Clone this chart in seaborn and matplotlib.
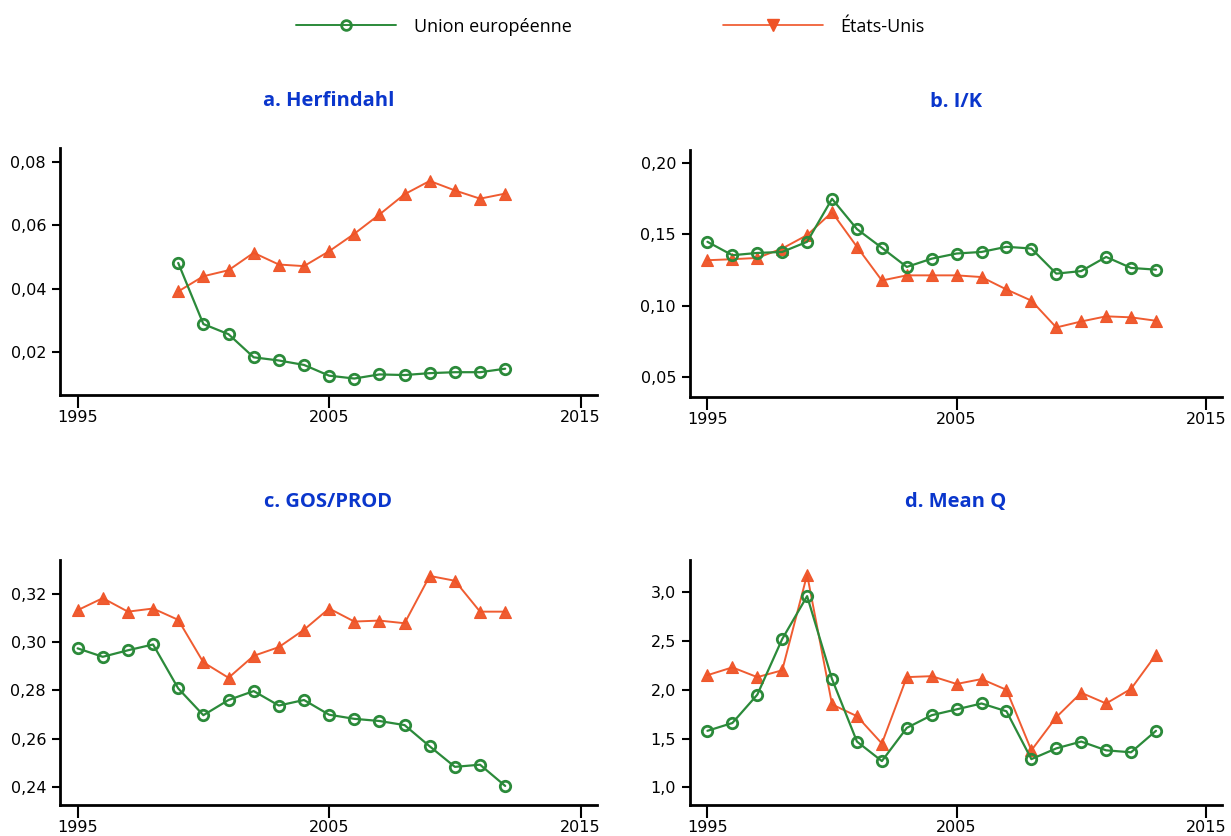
import numpy as np
import pandas as pd
import matplotlib
matplotlib.use("Agg")
import matplotlib.pyplot as plt
from matplotlib.lines import Line2D
from matplotlib.ticker import FuncFormatter
import seaborn as sns

# ---- data ----
years_a = list(range(1999, 2013))
eu_herf = [0.0481, 0.0288, 0.0256, 0.0183, 0.0173, 0.0159, 0.0125, 0.0116,
           0.0129, 0.0127, 0.0133, 0.0136, 0.0136, 0.0147]
us_herf = [0.0391, 0.0439, 0.0458, 0.0513, 0.0476, 0.0471, 0.0518, 0.0573,
           0.0634, 0.0698, 0.0740, 0.0710, 0.0684, 0.0700]

years_b = list(range(1995, 2014))
eu_ik = [0.1447, 0.1353, 0.1369, 0.1376, 0.1447, 0.1748, 0.1536, 0.1405, 0.1271,
         0.1329, 0.1365, 0.1376, 0.1412, 0.1400, 0.1224, 0.1242, 0.1341, 0.1264, 0.1252]
us_ik = [0.1318, 0.1325, 0.1334, 0.1400, 0.1494, 0.1654, 0.1412, 0.1176, 0.1212,
         0.1212, 0.1212, 0.1200, 0.1113, 0.1035, 0.0847, 0.0889, 0.0925, 0.0918, 0.0894]

years_c = list(range(1995, 2013))
eu_gos = [0.2974, 0.2939, 0.2966, 0.2990, 0.2808, 0.2697, 0.2760, 0.2797, 0.2737,
          0.2760, 0.2699, 0.2682, 0.2673, 0.2656, 0.2568, 0.2483, 0.2492, 0.2404]
us_gos = [0.3132, 0.3182, 0.3126, 0.3139, 0.3092, 0.2916, 0.2852, 0.2943, 0.2979,
          0.3051, 0.3139, 0.3085, 0.3089, 0.3078, 0.3274, 0.3254, 0.3126, 0.3126]

years_d = list(range(1995, 2014))
eu_q = [1.58, 1.66, 1.95, 2.52, 2.96, 2.11, 1.47, 1.27, 1.61, 1.74, 1.80, 1.86,
        1.78, 1.29, 1.40, 1.47, 1.38, 1.36, 1.58]
us_q = [2.15, 2.23, 2.13, 2.20, 3.18, 1.85, 1.73, 1.45, 2.13, 2.14, 2.06, 2.11,
        2.00, 1.38, 1.72, 1.97, 1.86, 2.01, 2.36]

titles = ["a. Herfindahl", "b. I/K", "c. GOS/PROD", "d. Mean Q"]
yticks_a = [0.02, 0.04, 0.06, 0.08]
yticks_b = [0.05, 0.10, 0.15, 0.20]
yticks_c = [0.24, 0.26, 0.28, 0.30, 0.32]
yticks_d = [1.0, 1.5, 2.0, 2.5, 3.0]
xticks = [1995, 2005, 2015]
labels = ["Union européenne", "États-Unis"]

GREEN = "#2b8a3a"
ORANGE = "#ef5326"
BLUE = "#0a36cc"

sns.set_style("ticks")
plt.rcParams["font.family"] = ["Open Sans", "DejaVu Sans"]
plt.rcParams["text.color"] = "black"
plt.rcParams["xtick.color"] = "black"
plt.rcParams["ytick.color"] = "black"

fig = plt.figure(figsize=(12.31, 8.36), dpi=100)

W, H = 1231, 836
def box(l, r, t, b):
    return [l / W, 1 - b / H, (r - l) / W, (b - t) / H]

panels = [
    (box(60, 597, 148, 395), years_a, eu_herf, us_herf, yticks_a, (0.0064, 0.0844), 2, 30),
    (box(690, 1222, 150, 397), years_b, eu_ik, us_ik, yticks_b, (0.036, 0.209), 2, 31),
    (box(60, 597, 560, 805), years_c, eu_gos, us_gos, yticks_c, (0.2325, 0.334), 2, 38),
    (box(690, 1222, 560, 805), years_d, eu_q, us_q, yticks_d, (0.82, 3.33), 1, 38),
]

for i, (rect, yrs, eu, us, yt, ylim, dec, pad) in enumerate(panels):
    ax = fig.add_axes(rect)
    sns.lineplot(x=yrs, y=us, ax=ax, color=ORANGE, lw=1.4, marker="^",
                 markersize=9, markeredgecolor=ORANGE, markeredgewidth=0.8,
                 alpha=0.95)
    sns.lineplot(x=yrs, y=eu, ax=ax, color=GREEN, lw=1.6, marker="o",
                 markersize=7.5, markerfacecolor="none", markeredgecolor=GREEN,
                 markeredgewidth=2)
    ax.set_xlim(1994.3, 2015.65)
    ax.set_ylim(*ylim)
    ax.set_xticks(xticks)
    ax.set_yticks(yt)
    ax.yaxis.set_major_formatter(FuncFormatter(
        lambda v, p, d=dec: f"{v:.{d}f}".replace(".", ",")))
    sns.despine(ax=ax)
    for s in ["left", "bottom"]:
        ax.spines[s].set_linewidth(2)
        ax.spines[s].set_color("black")
    ax.tick_params(axis="y", length=6, width=1.5, labelsize=11.5, pad=4)
    ax.tick_params(axis="x", length=9, width=1.5, labelsize=11.5, pad=2)
    for lab in ax.get_xticklabels() + ax.get_yticklabels():
        lab.set_family("DejaVu Sans")
    ax.set_title(titles[i], color=BLUE, fontweight="bold", fontsize=14.5, pad=pad)

handles = [
    Line2D([], [], color=GREEN, lw=1.4, marker="o", markersize=7,
           markerfacecolor="none", markeredgewidth=2),
    Line2D([], [], color=ORANGE, lw=1.2, marker="v", markersize=9),
]
fig.legend(handles, labels, loc="center", bbox_to_anchor=(0.496, 0.968),
           ncol=2, frameon=False, fontsize=13, handlelength=5.5,
           handletextpad=1.0, columnspacing=8.4)

fig.savefig("out.png", dpi=100)
